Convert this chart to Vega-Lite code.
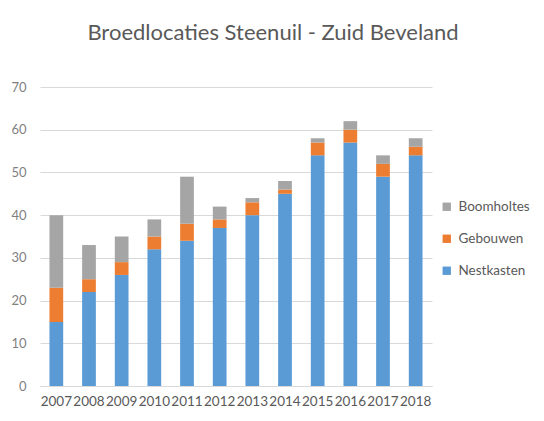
{
  "$schema": "https://vega.github.io/schema/vega-lite/v6.json",
  "autosize": {"type": "none"},
  "width": 392,
  "height": 299,
  "padding": {"left": 40, "top": 87, "right": 112, "bottom": 35},
  "background": "white",
  "title": {
    "text": "Broedlocaties Steenuil - Zuid Beveland",
    "anchor": "middle",
    "dx": 37,
    "offset": 36,
    "fontSize": 22,
    "font": "Lato",
    "fontWeight": "normal",
    "color": "#595959"
  },
  "data": {
    "values": [
      {"jaar": "2007", "type": "Nestkasten", "aantal": 15},
      {"jaar": "2007", "type": "Gebouwen", "aantal": 8},
      {"jaar": "2007", "type": "Boomholtes", "aantal": 17},
      {"jaar": "2008", "type": "Nestkasten", "aantal": 22},
      {"jaar": "2008", "type": "Gebouwen", "aantal": 3},
      {"jaar": "2008", "type": "Boomholtes", "aantal": 8},
      {"jaar": "2009", "type": "Nestkasten", "aantal": 26},
      {"jaar": "2009", "type": "Gebouwen", "aantal": 3},
      {"jaar": "2009", "type": "Boomholtes", "aantal": 6},
      {"jaar": "2010", "type": "Nestkasten", "aantal": 32},
      {"jaar": "2010", "type": "Gebouwen", "aantal": 3},
      {"jaar": "2010", "type": "Boomholtes", "aantal": 4},
      {"jaar": "2011", "type": "Nestkasten", "aantal": 34},
      {"jaar": "2011", "type": "Gebouwen", "aantal": 4},
      {"jaar": "2011", "type": "Boomholtes", "aantal": 11},
      {"jaar": "2012", "type": "Nestkasten", "aantal": 37},
      {"jaar": "2012", "type": "Gebouwen", "aantal": 2},
      {"jaar": "2012", "type": "Boomholtes", "aantal": 3},
      {"jaar": "2013", "type": "Nestkasten", "aantal": 40},
      {"jaar": "2013", "type": "Gebouwen", "aantal": 3},
      {"jaar": "2013", "type": "Boomholtes", "aantal": 1},
      {"jaar": "2014", "type": "Nestkasten", "aantal": 45},
      {"jaar": "2014", "type": "Gebouwen", "aantal": 1},
      {"jaar": "2014", "type": "Boomholtes", "aantal": 2},
      {"jaar": "2015", "type": "Nestkasten", "aantal": 54},
      {"jaar": "2015", "type": "Gebouwen", "aantal": 3},
      {"jaar": "2015", "type": "Boomholtes", "aantal": 1},
      {"jaar": "2016", "type": "Nestkasten", "aantal": 57},
      {"jaar": "2016", "type": "Gebouwen", "aantal": 3},
      {"jaar": "2016", "type": "Boomholtes", "aantal": 2},
      {"jaar": "2017", "type": "Nestkasten", "aantal": 49},
      {"jaar": "2017", "type": "Gebouwen", "aantal": 3},
      {"jaar": "2017", "type": "Boomholtes", "aantal": 2},
      {"jaar": "2018", "type": "Nestkasten", "aantal": 54},
      {"jaar": "2018", "type": "Gebouwen", "aantal": 2},
      {"jaar": "2018", "type": "Boomholtes", "aantal": 2}
    ]
  },
  "transform": [
    {"calculate": "datum.type === 'Nestkasten' ? 0 : datum.type === 'Gebouwen' ? 1 : 2", "as": "volgorde"}
  ],
  "mark": {"type": "bar"},
  "encoding": {
    "x": {
      "field": "jaar",
      "type": "ordinal",
      "title": null,
      "scale": {"paddingInner": 0.58, "paddingOuter": 0.29},
      "axis": {
        "labelAngle": 0,
        "ticks": false,
        "domainColor": "#d9d9d9",
        "labelColor": "#595959",
        "labelFont": "Lato",
        "labelFontSize": 13.5,
        "labelPadding": 8,
        "labelOverlap": false
      }
    },
    "y": {
      "field": "aantal",
      "type": "quantitative",
      "aggregate": "sum",
      "stack": "zero",
      "title": null,
      "scale": {"domain": [0, 70]},
      "axis": {
        "values": [0, 10, 20, 30, 40, 50, 60, 70],
        "domain": false,
        "ticks": false,
        "gridColor": "#d9d9d9",
        "labelColor": "#7f7f7f",
        "labelFont": "Lato",
        "labelFontSize": 13,
        "labelPadding": 14
      }
    },
    "color": {
      "field": "type",
      "type": "nominal",
      "scale": {
        "domain": ["Boomholtes", "Gebouwen", "Nestkasten"],
        "range": ["#a5a5a5", "#ed7d31", "#5b9bd5"]
      },
      "legend": {
        "title": null,
        "orient": "none",
        "legendX": 400,
        "legendY": 113,
        "symbolType": "square",
        "symbolSize": 70,
        "symbolStrokeWidth": 0,
        "labelFont": "Lato",
        "labelFontSize": 13.5,
        "labelColor": "#595959",
        "rowPadding": 17,
        "labelOffset": 5
      }
    },
    "order": {"field": "volgorde", "type": "quantitative"}
  },
  "config": {"view": {"stroke": null}}
}
